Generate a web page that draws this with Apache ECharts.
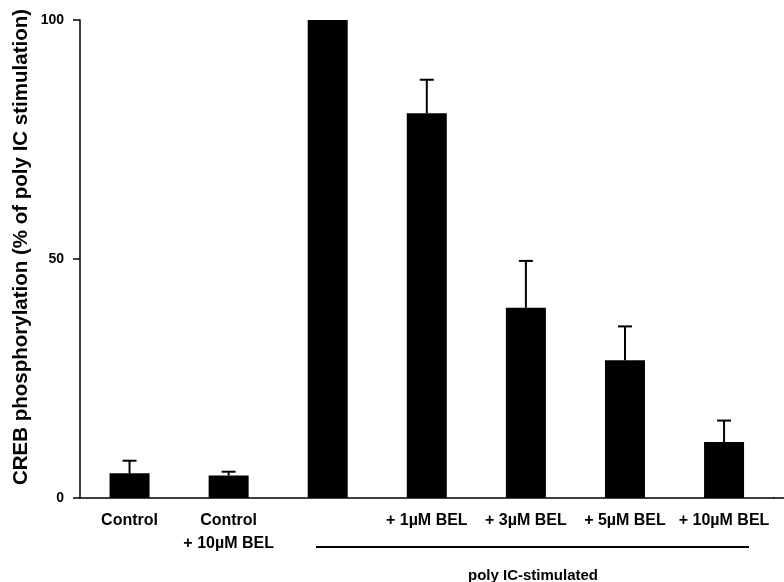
<!DOCTYPE html>
<html>
<head>
<meta charset="utf-8">
<script src="https://cdn.jsdelivr.net/npm/echarts@6/dist/echarts.min.js"></script>
<style>
html,body{margin:0;padding:0;background:#fff;}
#chart{width:784px;height:582px;}
</style>
</head>
<body>
<div id="chart"></div>
<script>
var categories = ['Control', 'Control\n+ 10\u00b5M BEL', '', '+ 1\u00b5M BEL', '+ 3\u00b5M BEL', '+ 5\u00b5M BEL', '+ 10\u00b5M BEL'];
var values = [5.2, 4.7, 100, 80.5, 39.8, 28.8, 11.7];
var errorTops = [7.8, 5.5, null, 87.5, 49.6, 35.9, 16.2];
var yTicks = [0, 50, 100];
var yTitle = 'CREB phosphorylation (% of poly IC stimulation)';
var groupLabel = 'poly IC-stimulated';

var FONT = '"Liberation Sans", Arial, Helvetica, sans-serif';
var chart = echarts.init(document.getElementById('chart'), null, {renderer: 'canvas'});

var errData = categories.map(function (c, i) { return [i, values[i], errorTops[i]]; })
  .filter(function (d) { return d[2] != null; });

chart.setOption({
  animation: false,
  backgroundColor: '#fff',
  grid: {left: 80, right: 10.4, top: 20, bottom: 84, containLabel: false, outerBoundsMode: 'none'},
  xAxis: {
    type: 'category',
    data: categories,
    boundaryGap: true,
    axisLine: {show: true, lineStyle: {color: '#000', width: 1.5}},
    axisTick: {show: false},
    axisLabel: {
      interval: 0, color: '#000', fontFamily: FONT, fontWeight: 'bold',
      fontSize: 16, lineHeight: 23, margin: 11, align: 'center'
    }
  },
  yAxis: {
    type: 'value',
    min: 0, max: 100, interval: 50,
    axisLine: {show: true, lineStyle: {color: '#000', width: 1.5}},
    axisTick: {show: true, inside: false, length: 7, lineStyle: {color: '#000', width: 1.5}},
    splitLine: {show: false},
    axisLabel: {
      color: '#000', fontFamily: FONT, fontWeight: 'bold', fontSize: 14, margin: 16,
      formatter: function (v) { return yTicks.indexOf(v) >= 0 ? String(v) : ''; }
    }
  },
  series: [
    {
      type: 'bar',
      data: values,
      barWidth: 40,
      itemStyle: {color: '#000'}
    },
    {
      type: 'custom',
      data: errData,
      z: 5,
      renderItem: function (params, api) {
        var x = api.value(0);
        var lo = api.coord([x, api.value(1)]);
        var hi = api.coord([x, api.value(2)]);
        var cap = 7;
        return {
          type: 'group',
          children: [
            {type: 'line', shape: {x1: lo[0], y1: lo[1], x2: hi[0], y2: hi[1]}, style: {stroke: '#000', lineWidth: 2}},
            {type: 'line', shape: {x1: hi[0] - cap, y1: hi[1], x2: hi[0] + cap, y2: hi[1]}, style: {stroke: '#000', lineWidth: 2}}
          ]
        };
      }
    }
  ],
  graphic: [
    {type: 'text', x: 21, y: 247, rotation: Math.PI / 2,
     style: {text: yTitle, fill: '#000', font: 'bold 20.5px ' + FONT, textAlign: 'center', textVerticalAlign: 'middle'}},
    {type: 'line', shape: {x1: 773, y1: 498, x2: 784, y2: 498}, style: {stroke: '#000', lineWidth: 1.5}},
    {type: 'line', shape: {x1: 316, y1: 547, x2: 749, y2: 547}, style: {stroke: '#000', lineWidth: 1.8}},
    {type: 'text', x: 533, y: 576, style: {text: groupLabel, fill: '#000', font: 'bold 15px ' + FONT, textAlign: 'center', textVerticalAlign: 'middle'}}
  ]
});
</script>
</body>
</html>
